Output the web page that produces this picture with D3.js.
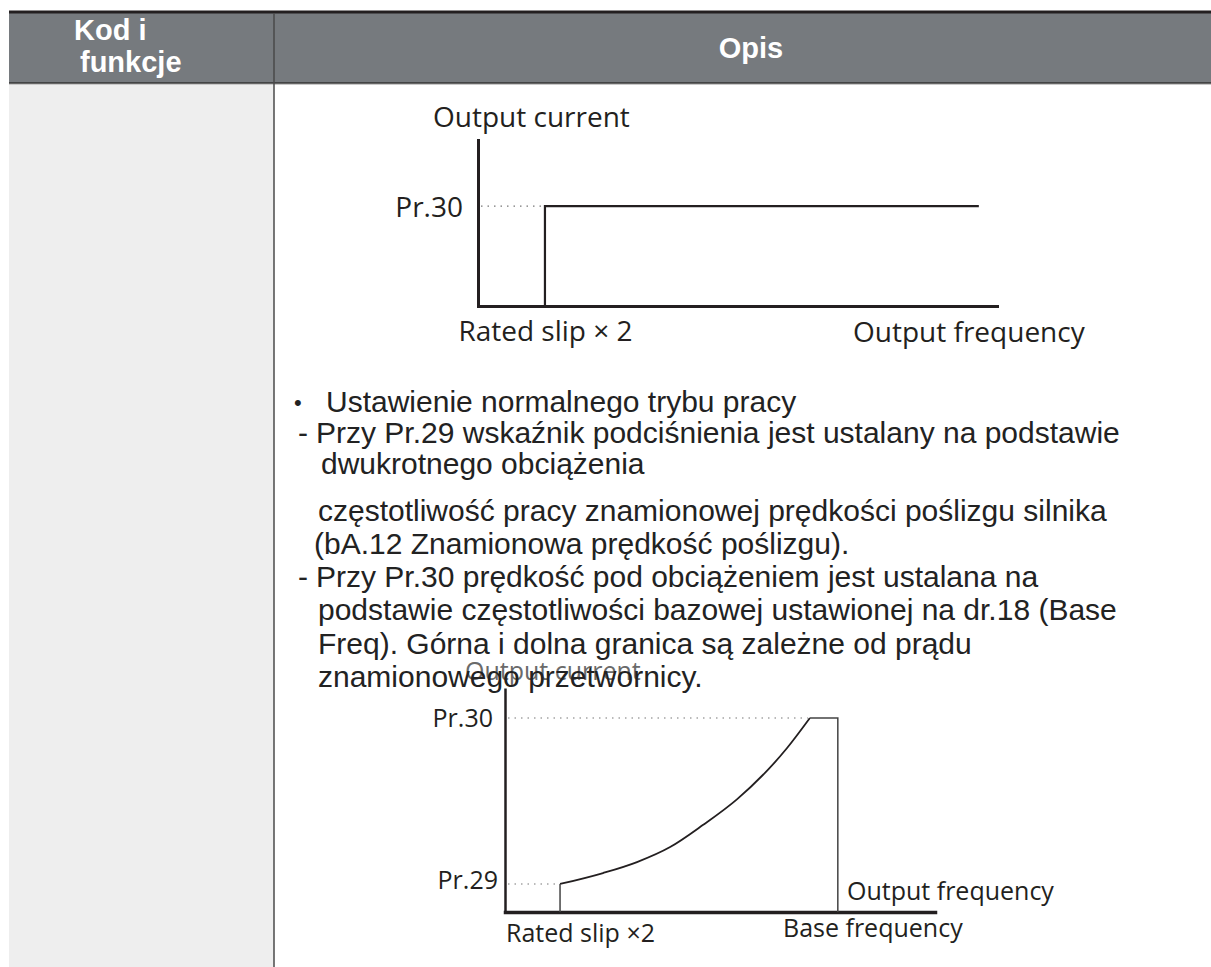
<!DOCTYPE html>
<html>
<head>
<meta charset="utf-8">
<script src="https://cdn.jsdelivr.net/npm/d3@7"></script>
<style>
  html, body { margin: 0; padding: 0; background: #fff; }
  svg { display: block; }
</style>
</head>
<body>
<div id="chart"></div>
<script>
// header cells
const headerLeft = ["Kod i", "funkcje"];
const headerRight = "Opis";

// description, one entry per printed line
const descMarkers = ["•", "-", "", "", "", "-", "", "", ""];
const descTexts = [
    "Ustawienie normalnego trybu pracy",
    "Przy Pr.29 wskaźnik podciśnienia jest ustalany na podstawie",
    "dwukrotnego obciążenia",
    "częstotliwość pracy znamionowej prędkości poślizgu silnika",
    "(bA.12 Znamionowa prędkość poślizgu).",
    "Przy Pr.30 prędkość pod obciążeniem jest ustalana na",
    "podstawie częstotliwości bazowej ustawionej na dr.18 (Base",
    "Freq). Górna i dolna granica są zależne od prądu",
    "znamionowego przetwornicy."
];

// top chart: current limit above rated slip x2 (percent of axis length)
const topFreq = [12.9, 12.9, 96.5];
const topCurrent = [0, 60.2, 60.2];
const topPr30 = 60.2;
const topRatedSlip = 12.9;

// bottom chart: current rises from Pr.29 to Pr.30 up to base frequency
const botRatedSlip = 12.8;
const botBaseFreq = 77.4;
const botPr29 = 12.5;
const botPr30 = 86.6;
const botCurveFreq = [12.8, 22.8, 30.7, 38.4, 46.0, 54.0, 65.6, 70.9];
const botCurveCurrent = [12.5, 17.4, 22.3, 29.0, 38.8, 50.4, 73.2, 86.6];

const ink = "#231f20";

const svg = d3.select("#chart")
    .append("svg")
    .attr("width", 1211)
    .attr("height", 967);

// ---- table frame ----
svg.append("rect")
    .attr("x", 9).attr("y", 85)
    .attr("width", 265).attr("height", 882)
    .attr("fill", "#eeeeee");

svg.append("rect")
    .attr("x", 9).attr("y", 13)
    .attr("width", 1202).attr("height", 70)
    .attr("fill", "#767a7e");

svg.append("rect")
    .attr("x", 9).attr("y", 10.5)
    .attr("width", 1202).attr("height", 3)
    .attr("fill", ink);

svg.append("line")
    .attr("x1", 9).attr("x2", 1211)
    .attr("y1", 83).attr("y2", 83)
    .attr("stroke", "#333").attr("stroke-width", 1.5);
svg.append("line")
    .attr("x1", 9).attr("x2", 1211)
    .attr("y1", 84.5).attr("y2", 84.5)
    .attr("stroke", "#c9c9c9").attr("stroke-width", 1);

svg.append("line")
    .attr("x1", 274).attr("x2", 274)
    .attr("y1", 13).attr("y2", 967)
    .attr("stroke", "#4a4a4a").attr("stroke-width", 1.5);

// header text
const headerFont = "'Liberation Sans', Arial, sans-serif";
svg.selectAll(".hdrLeft")
    .data(headerLeft)
    .join("text")
    .attr("class", "hdrLeft")
    .attr("x", (d, i) => i === 0 ? 74 : 80)
    .attr("y", (d, i) => 40 + i * 32)
    .attr("fill", "#fff")
    .attr("font-family", headerFont)
    .attr("font-weight", "bold")
    .attr("font-size", 29)
    .text(d => d);

svg.append("text")
    .attr("x", 751).attr("y", 58)
    .attr("text-anchor", "middle")
    .attr("fill", "#fff")
    .attr("font-family", headerFont)
    .attr("font-weight", "bold")
    .attr("font-size", 29)
    .text(headerRight);

// ---- top chart ----
const chartFont = "'Open Sans', 'Noto Sans', sans-serif";
const xTop = d3.scaleLinear().domain([0, 100]).range([478, 997]);
const yTop = d3.scaleLinear().domain([0, 100]).range([306, 140]);

const gTopY = svg.append("g")
    .attr("transform", `translate(${xTop(0)},0)`)
    .call(d3.axisLeft(yTop).tickValues([topPr30]).tickFormat(() => "Pr.30").tickSize(0).tickPadding(15).tickSizeOuter(0));
const gTopX = svg.append("g")
    .attr("transform", `translate(0,${yTop(0)})`)
    .call(d3.axisBottom(xTop).tickValues([topRatedSlip]).tickFormat(() => "Rated slip \u00d7 2").tickSize(0).tickPadding(10).tickSizeOuter(0));

[gTopY, gTopX].forEach(g => {
    g.select(".domain").attr("stroke", ink).attr("stroke-width", 3).attr("stroke-linecap", "square");
    g.selectAll("text").attr("fill", ink).attr("font-family", chartFont).attr("font-size", 28);
});
gTopY.selectAll("text").attr("dy", "0.38em");
gTopX.selectAll("text").attr("dy", "0.9em");

svg.append("line")
    .attr("x1", xTop(0) + 3).attr("x2", xTop(topRatedSlip))
    .attr("y1", yTop(topPr30)).attr("y2", yTop(topPr30))
    .attr("stroke", "#777").attr("stroke-width", 1.2)
    .attr("stroke-dasharray", "1.5,5");

const topLine = d3.line()
    .x(i => xTop(topFreq[i]))
    .y(i => yTop(topCurrent[i]));
svg.append("path")
    .attr("d", topLine(d3.range(topFreq.length)))
    .attr("fill", "none")
    .attr("stroke", ink)
    .attr("stroke-width", 2.2);

svg.append("text")
    .attr("x", xTop(0) - 45).attr("y", yTop(100) - 13)
    .attr("fill", ink).attr("font-family", chartFont).attr("font-size", 28)
    .text("Output current");
svg.append("text")
    .attr("x", 853).attr("y", yTop(0) + 36)
    .attr("fill", ink).attr("font-family", chartFont).attr("font-size", 28)
    .text("Output frequency");

// ---- bottom chart (drawn before the text, the text overlaps it) ----
const xBot = d3.scaleLinear().domain([0, 100]).range([505, 935]);
const yBot = d3.scaleLinear().domain([0, 100]).range([912, 688]);

svg.append("text")
    .attr("x", xBot(0) - 40).attr("y", 680)
    .attr("fill", "#6a6a6a").attr("font-family", chartFont).attr("font-size", 25)
    .text("Output current");

// ---- description text ----
const bodyFont = "'Liberation Sans', Arial, sans-serif";
const lineY = [412, 443, 474, 521, 554, 587, 620, 654, 687];
const textX = [326, 316, 321, 318, 314, 316, 318, 318, 318];
const markerX = [294, 298, 0, 0, 0, 298, 0, 0, 0];

const body = svg.append("g")
    .attr("font-family", bodyFont)
    .attr("font-size", 30)
    .attr("fill", "#222");

body.selectAll(".marker")
    .data(descMarkers.map((m, i) => ({ m, i })).filter(d => d.m !== ""))
    .join("text")
    .attr("class", "marker")
    .attr("x", d => markerX[d.i])
    .attr("y", d => lineY[d.i] - (d.m === "•" ? 2 : 0))
    .attr("font-size", d => d.m === "•" ? 22 : 30)
    .text(d => d.m);

body.selectAll(".line")
    .data(descTexts)
    .join("text")
    .attr("class", "line")
    .attr("x", (d, i) => textX[i])
    .attr("y", (d, i) => lineY[i])
    .text(d => d);

// bottom chart axes and curve
const gBotY = svg.append("g")
    .attr("transform", `translate(${xBot(0)},0)`)
    .call(d3.axisLeft(yBot).tickValues([]).tickSizeOuter(0));
const gBotX = svg.append("g")
    .attr("transform", `translate(0,${yBot(0)})`)
    .call(d3.axisBottom(xBot).tickValues([]).tickSizeOuter(0));
gBotY.select(".domain").attr("stroke", ink).attr("stroke-width", 2.5);
gBotX.select(".domain").attr("stroke", ink).attr("stroke-width", 3.5).attr("stroke-linecap", "square");

[[botPr30, botCurveFreq[botCurveFreq.length - 1]], [botPr29, botRatedSlip]].forEach(([lvl, fx]) => {
    svg.append("line")
        .attr("x1", xBot(0) + 3).attr("x2", xBot(fx) - 2)
        .attr("y1", yBot(lvl)).attr("y2", yBot(lvl))
        .attr("stroke", "#777").attr("stroke-width", 1.2)
        .attr("stroke-dasharray", "1.5,5");
});

const botCurve = d3.line()
    .x(i => xBot(botCurveFreq[i]))
    .y(i => yBot(botCurveCurrent[i]))
    .curve(d3.curveMonotoneX);
svg.append("path")
    .attr("d", botCurve(d3.range(botCurveFreq.length)))
    .attr("fill", "none").attr("stroke", ink).attr("stroke-width", 1.8);

const straight = d3.line().x(d => xBot(d[0])).y(d => yBot(d[1]));
svg.append("path")
    .attr("d", straight([[botRatedSlip, 0], [botRatedSlip, botPr29]]))
    .attr("fill", "none").attr("stroke", "#444").attr("stroke-width", 1.5);
svg.append("path")
    .attr("d", straight([[botCurveFreq[botCurveFreq.length - 1], botPr30], [botBaseFreq, botPr30], [botBaseFreq, 0]]))
    .attr("fill", "none").attr("stroke", "#444").attr("stroke-width", 1.5);

const botLabels = [
    { t: "Pr.30", x: xBot(0) - 12, y: yBot(botPr30) + 9, a: "end" },
    { t: "Pr.29", x: xBot(0) - 7, y: yBot(botPr29) + 5, a: "end" },
    { t: "Output frequency", x: 847, y: yBot(0) - 12, a: "start" },
    { t: "Rated slip  \u00d72", x: xBot(0) + 1, y: yBot(0) + 30, a: "start" },
    { t: "Base frequency", x: 783, y: yBot(0) + 25, a: "start" }
];
svg.selectAll(".botLabel")
    .data(botLabels)
    .join("text")
    .attr("class", "botLabel")
    .attr("x", d => d.x).attr("y", d => d.y)
    .attr("text-anchor", d => d.a)
    .attr("fill", ink).attr("font-family", chartFont).attr("font-size", 25)
    .text(d => d.t);
</script>
</body>
</html>
